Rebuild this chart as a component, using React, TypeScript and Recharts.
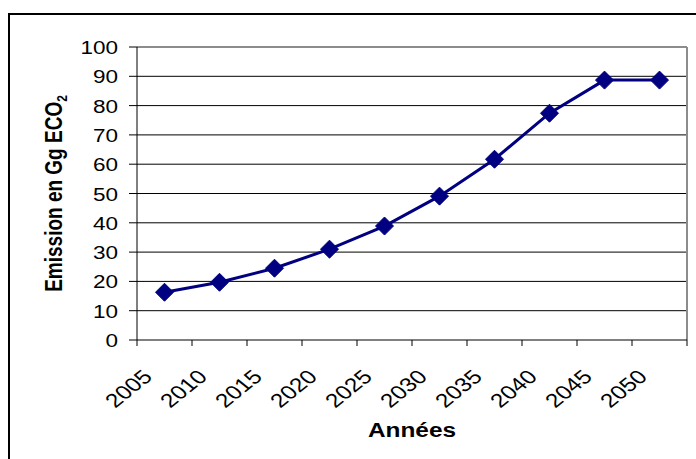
import React from 'react';
import { LineChart, Line, XAxis, YAxis, CartesianGrid, ReferenceLine } from 'recharts';

const years = ['2005', '2010', '2015', '2020', '2025', '2030', '2035', '2040', '2045', '2050'];
const emissions = [16.3, 19.7, 24.5, 31, 38.9, 49.1, 61.7, 77.4, 88.7, 88.7];
const yTicks = [0, 10, 20, 30, 40, 50, 60, 70, 80, 90, 100];
const gridValues = [10, 20, 30, 40, 50, 60, 70, 80, 90];

// numeric x axis: each year sits in the middle of its slot, tick marks on slot edges
const data = years.map((year, i) => ({ pos: i + 0.5, year, emission: emissions[i] }));
const slotEdges = years.map((_, i) => i).concat(years.length);

const FONT = '"Liberation Sans", Arial, sans-serif';
const NAVY = '#000080';
const STRETCH = 'scale(1.25,1)';

const YTick = (props: any) => {
  const { x, y, payload } = props;
  return (
    <text transform={`translate(${x},${y + 7}) ${STRETCH}`} textAnchor="end" fontSize={18} fontFamily={FONT} fill="#000">
      {payload.value}
    </text>
  );
};

const XTick = (props: any) => {
  const { x, y, payload, width } = props;
  const label = years[payload.value];
  if (!label) return null;
  const band = width / years.length;
  return (
    <text
      transform={`translate(${x + band / 2 - 11},${y + 32}) ${STRETCH} rotate(-45)`}
      textAnchor="end"
      fontSize={19.5}
      fontFamily={FONT}
      fill="#000"
    >
      {label}
    </text>
  );
};

const Diamond = (props: any) => {
  const { cx, cy } = props;
  if (cx == null || cy == null) return null;
  const r = 9;
  return <polygon points={`${cx},${cy - r} ${cx + r},${cy} ${cx},${cy + r} ${cx - r},${cy}`} fill={NAVY} stroke={NAVY} />;
};

const App: React.FC = () => {
  return (
    <div style={{ position: 'absolute', left: 0, top: 0, width: 696, height: 459, overflow: 'hidden', background: '#fff' }}>
      <div style={{ position: 'absolute', left: 8, top: 13, width: 720, height: 480, border: '2px solid #000' }} />
      <div style={{ position: 'absolute', left: 0, top: 0 }}>
        <LineChart width={696} height={459} data={data} margin={{ top: 47, right: 9, bottom: 59, left: 77 }}>
          <CartesianGrid vertical={false} horizontalValues={gridValues} stroke="#000" strokeWidth={1} />
          <XAxis
            dataKey="pos"
            type="number"
            domain={[0, years.length]}
            ticks={slotEdges}
            interval={0}
            height={60}
            tickSize={6}
            tickMargin={0}
            stroke="#000"
            tick={<XTick />}
          />
          <YAxis
            domain={[0, 100]}
            ticks={yTicks}
            interval={0}
            width={60}
            tickSize={8}
            tickMargin={11}
            stroke="#000"
            tick={<YTick />}
          />
          <ReferenceLine y={100} stroke="#8c8c8c" strokeWidth={2} />
          <ReferenceLine x={years.length} stroke="#8c8c8c" strokeWidth={2} />
          <Line
            type="linear"
            dataKey="emission"
            stroke={NAVY}
            strokeWidth={3}
            dot={<Diamond />}
            activeDot={false}
            isAnimationActive={false}
          />
        </LineChart>
        <svg width={696} height={459} style={{ position: 'absolute', left: 0, top: 0, pointerEvents: 'none' }}>
          <text
            transform={`translate(62,193.5) ${STRETCH} rotate(-90)`}
            textAnchor="middle"
            fontSize={19}
            fontWeight="bold"
            fontFamily={FONT}
          >
            Emission en Gg ECO
            <tspan fontSize={12} dy={4}>2</tspan>
          </text>
          <text transform={`translate(412,437) ${STRETCH}`} textAnchor="middle" fontSize={19.5} fontWeight="bold" fontFamily={FONT}>
            Années
          </text>
        </svg>
      </div>
    </div>
  );
};

export default App;
